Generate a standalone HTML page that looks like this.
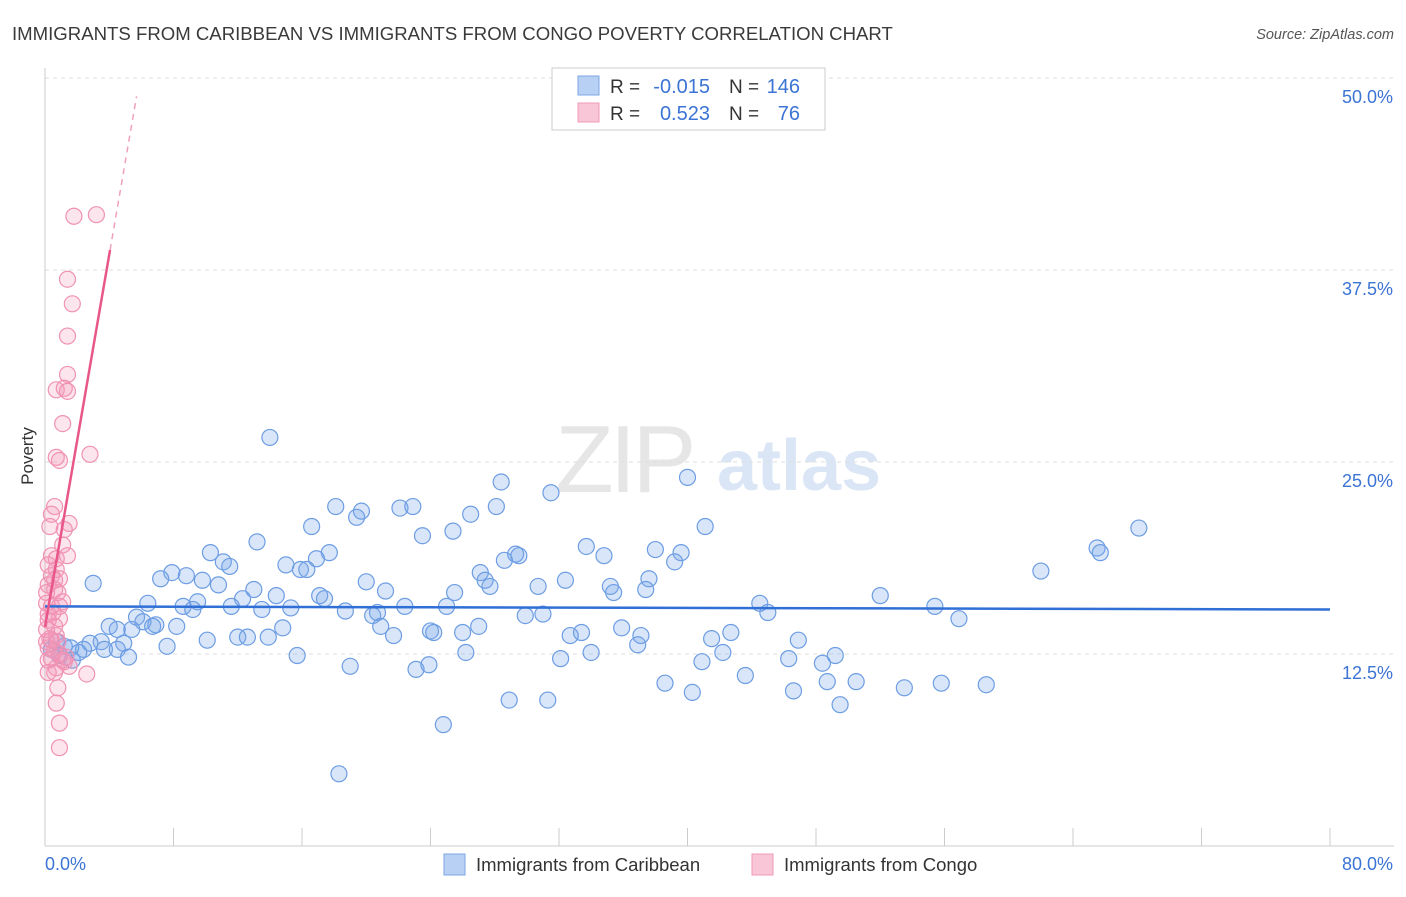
<!DOCTYPE html>
<html><head><meta charset="utf-8"><style>
body{margin:0;background:#fff;font-family:"Liberation Sans",sans-serif;}
svg text{font-family:"Liberation Sans",sans-serif;}
</style></head><body>
<svg id="chart" width="1406" height="892" xmlns="http://www.w3.org/2000/svg">
<text x="12" y="40" font-size="18.6" fill="#3a3a3a">IMMIGRANTS FROM CARIBBEAN VS IMMIGRANTS FROM CONGO POVERTY CORRELATION CHART</text>
<text x="1394" y="39" font-size="14.5" fill="#555" text-anchor="end" font-style="italic">Source: ZipAtlas.com</text>
<g>
<text x="555" y="492" font-size="96" fill="#e6e6e6" font-family="Liberation Serif" letter-spacing="-4">ZIP</text>
<text x="717" y="490" font-size="72" fill="#dae6f5" font-weight="bold">atlas</text>
</g>
<text transform="translate(33,456) rotate(-90)" font-size="17" fill="#333" text-anchor="middle">Poverty</text>
<g id="grid"></g>
<g id="axes"></g>
<g id="marks"></g>
<g>
<rect x="552" y="68" width="273" height="62" fill="#fff" stroke="#ccc"/>
<rect x="578" y="76" width="21" height="19" fill="#b8d0f3" stroke="#7ea6e6"/>
<rect x="578" y="103" width="21" height="19" fill="#f8c6d6" stroke="#f09ab8"/>
<text x="610" y="93" font-size="19" fill="#333">R =</text>
<text x="710" y="93" font-size="20" fill="#3b74d4" text-anchor="end">-0.015</text>
<text x="729" y="93" font-size="19" fill="#333">N =</text>
<text x="800" y="93" font-size="20" fill="#3b74d4" text-anchor="end">146</text>
<text x="610" y="120" font-size="19" fill="#333">R =</text>
<text x="710" y="120" font-size="20" fill="#3b74d4" text-anchor="end">0.523</text>
<text x="729" y="120" font-size="19" fill="#333">N =</text>
<text x="800" y="120" font-size="20" fill="#3b74d4" text-anchor="end">76</text>
</g>
<g>
<rect x="444" y="854" width="21" height="21" fill="#b8d0f3" stroke="#7ea6e6"/>
<text x="476" y="871" font-size="18.5" fill="#333">Immigrants from Caribbean</text>
<rect x="752" y="854" width="21" height="21" fill="#f8c6d6" stroke="#f09ab8"/>
<text x="784" y="871" font-size="18.5" fill="#333">Immigrants from Congo</text>
</g>
</svg>
<script>
const yTicks=[12.5,25,37.5,50];
const yTickLabels=["12.5%","25.0%","37.5%","50.0%"];
const xTicks=[0,8,16,24,32,40,48,56,64,72,80];
const xTickLabels=["0.0%","80.0%"];
const blueX=[14.0,28.4,40.0,31.5,18.1,22.1,22.9,19.7,19.4,26.5,28.1,16.6,41.1,68.1,23.5,25.4,13.2,33.7,65.5,65.7,10.3,38.0,29.3,28.6,29.5,17.7,39.6,39.2,34.8,11.1,11.5,16.9,15.0,15.9,16.3,62.0,7.9,8.8,7.2,9.8,27.1,27.4,27.7,10.8,20.0,30.7,32.4,37.6,3.0,21.2,13.0,25.5,35.2,35.4,37.4,52.0,14.4,17.1,17.4,12.3,9.5,6.4,11.6,8.6,9.2,13.5,15.3,22.4,25.0,44.5,45.0,55.4,18.7,20.4,20.7,29.9,31.0,56.9,5.7,6.1,6.9,8.2,6.7,5.4,4.0,4.5,20.9,14.8,27.0,35.9,37.1,21.7,24.0,24.2,26.0,32.7,33.4,42.7,41.5,12.0,12.6,13.9,10.1,4.9,3.5,2.8,2.4,2.1,1.6,1.2,0.7,0.4,0.9,1.7,3.7,4.5,5.2,7.6,36.9,42.2,46.9,15.7,26.2,32.1,34.0,49.2,19.0,23.1,23.9,40.9,46.3,48.4,43.6,38.6,40.3,48.7,50.5,53.5,55.8,58.6,46.6,28.9,31.3,49.5,24.8,18.3];
const blueY=[26.6,23.7,24.0,23.0,22.1,22.0,22.1,21.8,21.4,21.6,22.1,20.8,20.8,20.7,20.2,20.5,19.8,19.5,19.4,19.1,19.1,19.3,19.0,18.6,18.9,19.1,19.1,18.5,18.9,18.5,18.2,18.7,18.3,18.0,18.0,17.9,17.8,17.6,17.4,17.3,17.8,17.3,16.9,17.0,17.2,16.9,17.3,17.4,17.1,16.6,16.7,16.5,16.9,16.5,16.7,16.3,16.3,16.3,16.1,16.1,15.9,15.8,15.6,15.6,15.4,15.4,15.5,15.6,15.6,15.8,15.2,15.6,15.3,15.0,15.2,15.0,15.1,14.8,14.9,14.6,14.4,14.3,14.3,14.1,14.3,14.1,14.3,14.2,14.3,14.2,13.7,13.7,14.0,13.9,13.9,13.7,13.9,13.9,13.5,13.6,13.6,13.6,13.4,13.2,13.3,13.2,12.8,12.6,12.9,13.0,13.3,12.8,12.4,12.1,12.8,12.8,12.3,13.0,13.1,12.6,13.4,12.4,12.6,12.2,12.6,12.4,11.7,11.5,11.8,12.0,12.2,11.9,11.1,10.6,10.0,10.7,10.7,10.3,10.6,10.5,10.1,9.5,9.5,9.2,7.9,4.7];
const pinkX=[1.8,3.2,1.4,1.7,1.4,1.4,0.7,1.2,1.4,1.1,0.7,0.9,2.8,0.6,0.4,1.5,0.3,1.2,1.1,0.4,0.7,1.4,0.2,0.7,0.4,0.9,0.2,0.6,0.1,0.8,1.1,0.1,0.4,0.9,0.2,0.9,0.6,0.1,0.7,0.3,0.8,0.1,0.2,0.6,0.9,0.4,1.2,1.5,0.7,0.2,2.6,0.6,0.8,0.7,0.9,0.9,0.5,0.2,1.1,1.3,0.4,0.2,0.6];
const pinkY=[41.0,41.1,36.9,35.3,33.2,30.7,29.7,29.8,29.6,27.5,25.3,25.1,25.5,22.1,21.6,21.0,20.8,20.6,19.6,18.9,18.7,18.9,18.3,18.0,17.6,17.4,17.0,16.7,16.5,16.5,15.9,15.8,15.6,15.6,15.1,14.8,14.3,14.1,13.7,13.5,13.3,13.3,12.9,12.7,12.5,12.2,12.0,11.7,11.6,11.3,11.2,11.3,10.3,9.3,8.0,6.4,15.2,14.7,12.1,12.3,13.4,12.1,17.3];
const blueTrend=[15.6,15.4];
const pinkTrend=[14.26,6.06];
const pinkSolidEnd=4.05, pinkDashEnd=5.7;

const X0=45,X1=1330,Y0=846,Y1=78;
const xs=v=>X0+(v/80)*(X1-X0);
const ys=v=>Y0-(v/50)*(Y0-Y1);
const NS="http://www.w3.org/2000/svg";
function mk(tag,attrs,parent){const e=document.createElementNS(NS,tag);for(const k in attrs)e.setAttribute(k,attrs[k]);parent.appendChild(e);return e;}
const grid=document.getElementById('grid'),axes=document.getElementById('axes'),marks=document.getElementById('marks');
yTicks.forEach((t,i)=>{
  const l=mk('line',{x1:X0,x2:1394,y1:ys(t),y2:ys(t),stroke:'#ddd','stroke-dasharray':'4,4'},grid);
  
  
  const tx=mk('text',{x:1393,y:ys(t)+25,'font-size':18,fill:'#3b74d4','text-anchor':'end'},axes);
  tx.textContent=yTickLabels[i];
  
  
});
const ax=mk('line',{x1:X0,x2:X0,y1:68,y2:Y0,stroke:'#ccc'},axes);


const bx=mk('line',{x1:X0,x2:1394,y1:Y0,y2:Y0,stroke:'#ccc'},axes);


xTicks.forEach(t=>{
  const l=mk('line',{x1:xs(t),x2:xs(t),y1:828,y2:Y0,stroke:'#ccc'},axes);
  
  
});
const xl0=mk('text',{x:45,y:870,'font-size':18,fill:'#3b74d4'},axes);xl0.textContent=xTickLabels[0];


const xl1=mk('text',{x:1393,y:870,'font-size':18,fill:'#3b74d4','text-anchor':'end'},axes);xl1.textContent=xTickLabels[1];



blueX.forEach((v,i)=>{
  const c=mk('circle',{cx:xs(v),cy:ys(blueY[i]),r:8,fill:'rgba(120,165,235,0.28)',stroke:'#6d9de3','stroke-width':1.2},marks);
  
  
});
pinkX.forEach((v,i)=>{
  const c=mk('circle',{cx:xs(v),cy:ys(pinkY[i]),r:8,fill:'rgba(245,150,185,0.25)',stroke:'#f092b3','stroke-width':1.2},marks);
  
  
});
const bt=mk('line',{x1:xs(0),y1:ys(blueTrend[0]),x2:xs(80),y2:ys(blueTrend[1]),stroke:'#2f6fd6','stroke-width':2.5},marks);


const pf=x=>pinkTrend[0]+pinkTrend[1]*x;
const ps=mk('line',{x1:xs(0),y1:ys(pf(0)),x2:xs(pinkSolidEnd),y2:ys(pf(pinkSolidEnd)),stroke:'#e8578a','stroke-width':2.5},marks);


const pd=mk('line',{x1:xs(pinkSolidEnd),y1:ys(pf(pinkSolidEnd)),x2:xs(pinkDashEnd),y2:ys(pf(pinkDashEnd)),stroke:'#f0a0bd','stroke-width':1.5,'stroke-dasharray':'6,5'},marks);


</script>
</body></html>
